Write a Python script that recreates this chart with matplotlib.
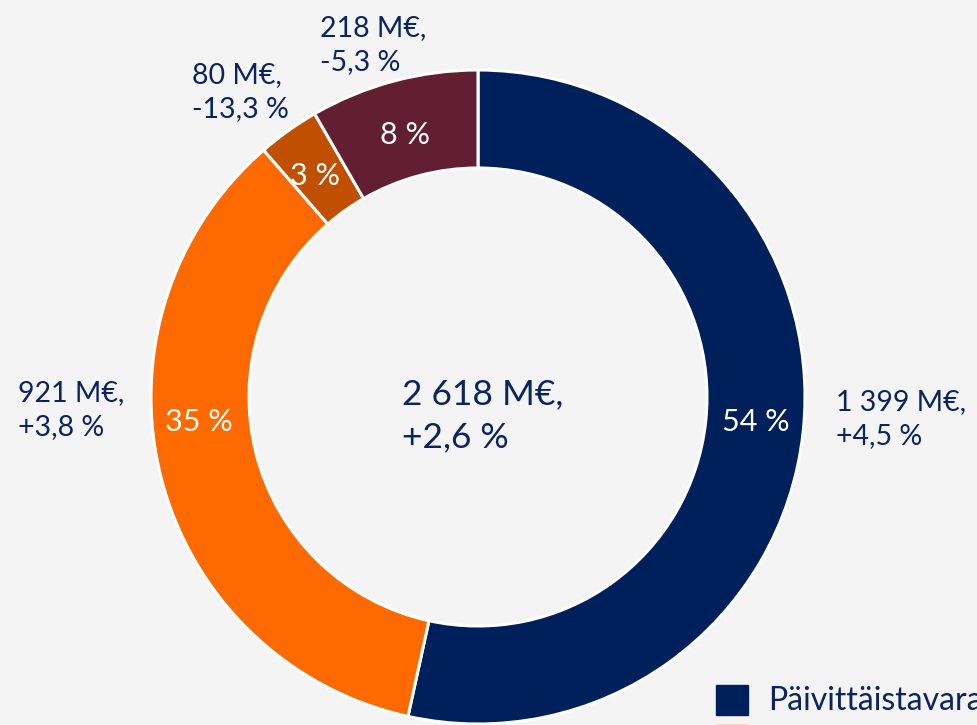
import matplotlib.pyplot as plt
from matplotlib.patches import Rectangle

# Data
segments = ['Päivittäistavarakauppa', 'Rakentamisen ja talotekniikan kauppa', 'Muut', 'Autokauppa']
sales = [1399, 921, 80, 218]
pct_labels = ['54 %', '35 %', '3 %', '8 %']
sales_labels = ['1 399 M€,\n+4,5 %', '921 M€,\n+3,8 %', '80 M€,\n-13,3 %', '218 M€,\n-5,3 %']
total_label = '2 618 M€,\n+2,6 %'

colors = ['#00205b', '#ff6a00', '#c05000', '#621e32']
text_col = '#0b2460'
bg = '#f4f4f4'

plt.rcParams['font.family'] = ['Lato', 'DejaVu Sans']

W, H = 977, 725
fig = plt.figure(figsize=(W / 100, H / 100), dpi=100, facecolor=bg)
ax = fig.add_axes([0, 0, 1, 1])
ax.set_facecolor(bg)

def fy(y):
    # pixel row from top -> data y
    return H - y

cx, cy, R = 478, fy(397), 327
ring = 98

wedges, _ = ax.pie(sales, colors=colors, startangle=90, counterclock=False,
                   center=(cx, cy), radius=R, frame=True,
                   wedgeprops=dict(width=ring, edgecolor='white', linewidth=2.2))
ax.set_xlim(0, W)
ax.set_ylim(0, H)
ax.set_aspect('equal')
ax.axis('off')

# percentage labels inside the ring
pct_pos = [(756, 422), (199, 422), (315, 176), (405, 135)]
for (x, y), lab in zip(pct_pos, pct_labels):
    ax.text(x, fy(y), lab, color='white', fontsize=22, ha='center', va='center')

# outer value labels
label_pos = [(836, 419), (18, 410), (192, 92), (320, 45)]
for (x, y), lab in zip(label_pos, sales_labels):
    ax.text(x, fy(y), lab, color=text_col, fontsize=20.5, ha='left', va='center',
            linespacing=1.42)

ax.text(402, fy(416), total_label, color=text_col, fontsize=25.5, ha='left',
        va='center', linespacing=1.42)

# legend (cut off at the bottom edge)
ax.add_patch(Rectangle((716, fy(715)), 32, 30, color=colors[0], clip_on=True))
ax.add_patch(Rectangle((716, fy(755)), 32, 30, color=colors[1], clip_on=True))
ax.text(768, fy(701), segments[0], color=text_col, fontsize=23, ha='left',
        va='center', clip_on=True)

fig.savefig('out.png', dpi=100, facecolor=bg)
